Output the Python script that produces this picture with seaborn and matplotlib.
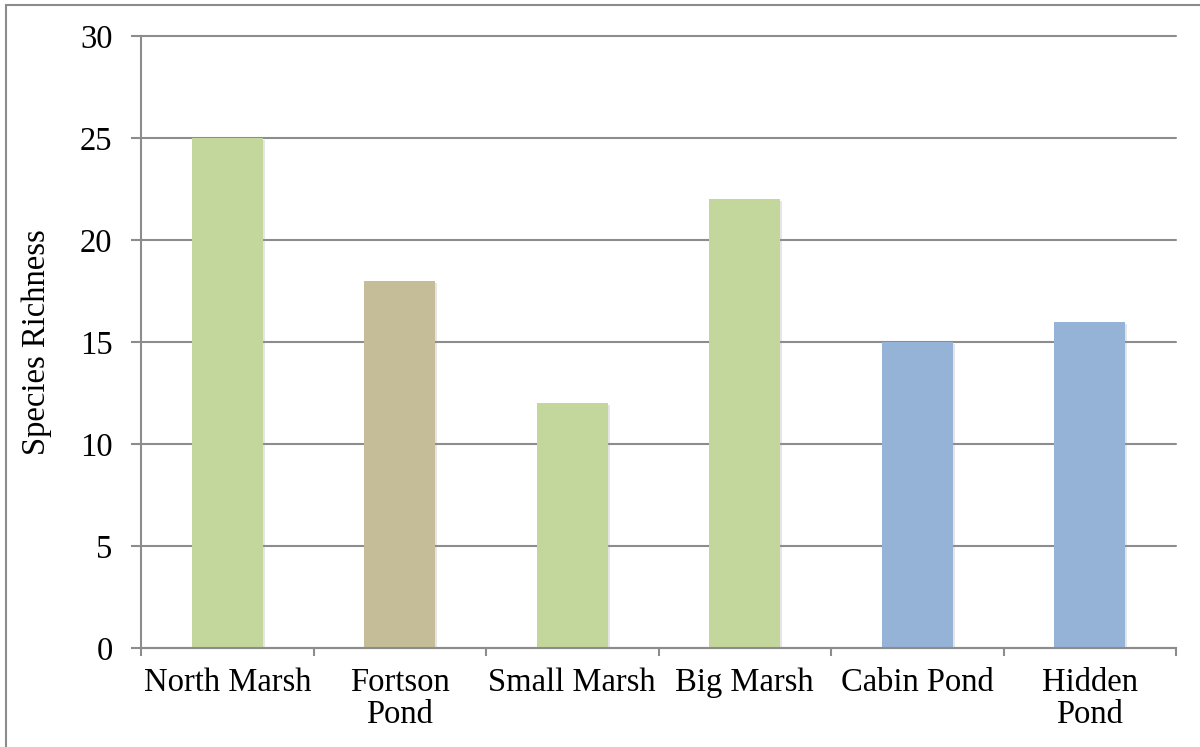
import matplotlib
matplotlib.use("Agg")
import matplotlib.pyplot as plt
import matplotlib.patheffects as pe
from matplotlib.patches import Rectangle
import seaborn as sns
import pandas as pd

sites = ["North Marsh", "Fortson\nPond", "Small Marsh", "Big Marsh", "Cabin Pond", "Hidden\nPond"]
richness = [25, 18, 12, 22, 15, 16]
colors = ["#C3D69B", "#C4BD97", "#C3D69B", "#C3D69B", "#95B3D7", "#95B3D7"]
yticks = [0, 5, 10, 15, 20, 25, 30]

sns.set_theme(style="white")
plt.rcParams["font.family"] = ["Liberation Serif", "DejaVu Serif"]

df = pd.DataFrame({"site": sites, "richness": richness})

fig = plt.figure(figsize=(12, 7.47), dpi=100)
ax = fig.add_axes([141/1200, 1-648/747, (1176-141)/1200, (648-36)/747])

sns.barplot(data=df, x="site", y="richness", hue="site", palette=colors,
            legend=False, width=0.41, ax=ax, saturation=1, linewidth=0)
for p in ax.patches:
    p.set_path_effects([pe.SimplePatchShadow(offset=(1.5, -1.5), shadow_rgbFace="#999999", alpha=0.25), pe.Normal()])

gray = "#8C8C8C"
ax.set_ylim(0, 30)
ax.set_xlim(-0.5, len(sites) - 0.5)
ax.set_yticks(yticks)
ax.yaxis.grid(True, color=gray, linewidth=1.5)
for gl in ax.get_ygridlines():
    gl.set_clip_on(False)
ax.set_axisbelow(True)
for s in ["top", "right"]:
    ax.spines[s].set_visible(False)
ax.spines["left"].set_color(gray)
ax.spines["bottom"].set_color(gray)
ax.spines["left"].set_linewidth(1.5)
ax.spines["bottom"].set_linewidth(1.5)

ax.tick_params(axis="y", which="major", length=7.5, width=1.5, color=gray, pad=13,
               labelsize=23.5, labelcolor="black", left=True)
ax.set_xticks(range(len(sites)))
ax.set_xticklabels(sites, fontsize=23.5, linespacing=1.08)
ax.tick_params(axis="x", which="major", length=0, pad=14, labelcolor="black")
ax.set_xticks([i - 0.5 for i in range(len(sites) + 1)], minor=True)
ax.tick_params(axis="x", which="minor", length=6, width=1.5, color=gray, bottom=True)

ax.set_xlabel("")
ax.set_ylabel("Species Richness", fontsize=23.5, color="black", labelpad=20)

fig.patches.append(Rectangle((6/1200, -0.05), 1.2, 1 - 5/747 + 0.05, transform=fig.transFigure,
                             fill=False, edgecolor=gray, linewidth=1.5, clip_on=False))

fig.savefig("out.png", dpi=100)
